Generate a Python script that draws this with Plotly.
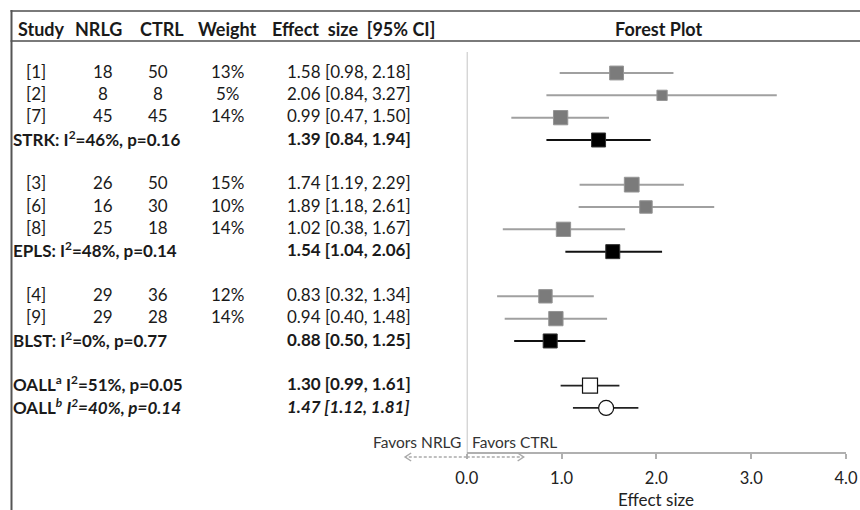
import plotly.graph_objects as go

# ---------------- data ----------------
study_labels = ["[1]", "[2]", "[7]", "[3]", "[6]", "[8]", "[4]", "[9]"]
study_rows = [0, 1, 2, 5, 6, 7, 10, 11]
nrlg = [18, 8, 45, 26, 16, 25, 29, 29]
ctrl = [50, 8, 45, 50, 30, 18, 36, 28]
weight = [13, 5, 14, 15, 10, 14, 12, 14]
study_eff = [1.58, 2.06, 0.99, 1.74, 1.89, 1.02, 0.83, 0.94]
study_lo = [0.98, 0.84, 0.47, 1.19, 1.18, 0.38, 0.32, 0.40]
study_hi = [2.18, 3.27, 1.50, 2.29, 2.61, 1.67, 1.34, 1.48]

sub_labels = ["STRK: I<sup>2</sup>=46%, p=0.16", "EPLS: I<sup>2</sup>=48%, p=0.14",
              "BLST: I<sup>2</sup>=0%, p=0.77"]
sub_rows = [3, 8, 12]
sub_eff = [1.39, 1.54, 0.88]
sub_lo = [0.84, 1.04, 0.50]
sub_hi = [1.94, 2.06, 1.25]

all_labels = ["<b>OALL<sup>a</sup> I<sup>2</sup>=51%, p=0.05</b>",
              "<b>OALL<sup><i>b</i></sup> <i>I<sup>2</sup>=40%, p=0.14</i></b>"]
all_rows = [14, 15]
all_eff = [1.30, 1.47]
all_lo = [0.99, 1.12]
all_hi = [1.61, 1.81]
all_symbols = ["square", "circle"]
all_fmt = ["<b>{}</b>", "<b><i>{}</i></b>"]

headers = ["Study", "NRLG", "CTRL", "Weight", "Effect  size  [95% CI]"]
tick_vals = [0, 1, 2, 3, 4]
tick_text = ["0.0", "1.0", "2.0", "3.0", "4.0"]

# ---------------- layout helpers ----------------
W, H = 875, 510
A_OFF, B_SC = 11.5, 0.972        # observed horizontal placement of the page in the photo
FONT = "Lato"
TXT = "#1a1a1a"
ROW0, PITCH = 73, 22.33          # pixel of first row, row pitch
AX_Y = 452                       # pixel of x axis domain bottom
X0PX, X4PX = 466, 845            # target pixels of x=0 and x=4
UNIT = (X4PX - X0PX) / 4


def px_x(p):
    return ((p - A_OFF) / B_SC) / W


def px_y(p):
    return 1 - p / H


def ci_text(e, lo, hi):
    return f"{e:.2f} [{lo:.2f}, {hi:.2f}]"


fig = go.Figure()

fig.add_trace(go.Scatter(
    x=study_eff, y=study_rows, mode="markers",
    marker=dict(symbol="square", color="#7b7b7b", opacity=1,
                size=[8 + 0.45 * w for w in weight],
                line=dict(color="#959595", width=1)),
    error_x=dict(type="data", symmetric=False,
                 array=[h - e for h, e in zip(study_hi, study_eff)],
                 arrayminus=[e - l for e, l in zip(study_eff, study_lo)],
                 width=0, thickness=2, color="#a0a0a0"),
    hoverinfo="skip", showlegend=False))

fig.add_trace(go.Scatter(
    x=sub_eff, y=sub_rows, mode="markers",
    marker=dict(symbol="square", color="#000000", size=14,
                line=dict(color="#333", width=1)),
    error_x=dict(type="data", symmetric=False,
                 array=[h - e for h, e in zip(sub_hi, sub_eff)],
                 arrayminus=[e - l for e, l in zip(sub_eff, sub_lo)],
                 width=0, thickness=2, color="#111111"),
    hoverinfo="skip", showlegend=False))

fig.add_trace(go.Scatter(
    x=all_eff, y=all_rows, mode="markers",
    marker=dict(symbol=all_symbols, color="white", size=15,
                line=dict(color="#111", width=1.2)),
    error_x=dict(type="data", symmetric=False,
                 array=[h - e for h, e in zip(all_hi, all_eff)],
                 arrayminus=[e - l for e, l in zip(all_eff, all_lo)],
                 width=0, thickness=1.8, color="#222222"),
    hoverinfo="skip", showlegend=False))

ann = []
body = dict(family=FONT, size=17, color=TXT)
hfont = dict(family=FONT, size=18, color=TXT)

hdr_pos = [(15, "left"), (98, "center"), (161, "center"), (227, "center"), (269, "left")]
for h, (xp, anc) in zip(headers, hdr_pos):
    ann.append(dict(text=f"<b>{h}</b>", x=px_x(xp), y=px_y(28.5), xref="paper", yref="paper",
                    xanchor=anc, yanchor="middle", showarrow=False, font=hfont))
ann.append(dict(text="<b>Forest Plot</b>", x=px_x(658), y=px_y(28.5), xref="paper",
                yref="paper", xanchor="center", yanchor="middle", showarrow=False, font=hfont))

for lab, r, a, b, w, e, lo, hi in zip(study_labels, study_rows, nrlg, ctrl, weight,
                                      study_eff, study_lo, study_hi):
    for txt, xp, anc in [(lab, 35, "center"), (str(a), 102, "center"),
                         (str(b), 157, "center"), (f"{w}%", 227, "center"),
                         (ci_text(e, lo, hi), 284, "left")]:
        ann.append(dict(text=txt, x=px_x(xp), y=r - 0.08, xref="paper", yref="y",
                        xanchor=anc, yanchor="middle", showarrow=False, font=body))

for lab, r, e, lo, hi in zip(sub_labels, sub_rows, sub_eff, sub_lo, sub_hi):
    ann.append(dict(text=f"<b>{lab}</b>", x=px_x(11), y=r - 0.08, xref="paper", yref="y",
                    xanchor="left", yanchor="middle", showarrow=False, font=body))
    ann.append(dict(text=f"<b>{ci_text(e, lo, hi)}</b>", x=px_x(284), y=r - 0.08, xref="paper",
                    yref="y", xanchor="left", yanchor="middle", showarrow=False, font=body))

for lab, r, e, lo, hi, fmt in zip(all_labels, all_rows, all_eff, all_lo, all_hi, all_fmt):
    ann.append(dict(text=lab, x=px_x(11), y=r - 0.08, xref="paper", yref="y",
                    xanchor="left", yanchor="middle", showarrow=False, font=body))
    ann.append(dict(text=fmt.format(ci_text(e, lo, hi)), x=px_x(284), y=r - 0.08, xref="paper",
                    yref="y", xanchor="left", yanchor="middle", showarrow=False, font=body))

fav = dict(family=FONT, size=15.5, color="#333")
ann.append(dict(text="Favors NRLG", x=px_x(X0PX - 4), y=px_y(442), xref="paper", yref="paper",
                xanchor="right", yanchor="middle", showarrow=False, font=fav))
ann.append(dict(text="Favors CTRL", x=px_x(X0PX + 3), y=px_y(442), xref="paper", yref="paper",
                xanchor="left", yanchor="middle", showarrow=False, font=fav))
ann.append(dict(text="Effect size", x=px_x(X0PX + 2 * UNIT), y=px_y(499.5), xref="paper",
                yref="paper", xanchor="center", yanchor="middle", showarrow=False,
                font=dict(family=FONT, size=17, color="#222")))

shapes = []
frame = dict(color="#7a7a7a", width=2)
shapes.append(dict(type="line", xref="paper", yref="paper", x0=px_x(10), x1=px_x(861),
                   y0=px_y(11), y1=px_y(11), line=frame))
shapes.append(dict(type="line", xref="paper", yref="paper", x0=px_x(10), x1=px_x(861),
                   y0=px_y(41), y1=px_y(41), line=frame))
shapes.append(dict(type="line", xref="paper", yref="paper", x0=px_x(11), x1=px_x(11),
                   y0=px_y(10), y1=0, line=dict(color="#555", width=2)))
shapes.append(dict(type="line", xref="x", yref="paper", x0=0, x1=0,
                   y0=px_y(52), y1=px_y(459), line=dict(color="#b0b0b0", width=1.5)))
ay = px_y(457)
left_end = X0PX - 0.65 * UNIT
right_end = X0PX + 0.6 * UNIT
acol = "#aaaaaa"
for end in (left_end, right_end):
    shapes.append(dict(type="line", xref="paper", yref="paper", x0=px_x(X0PX), x1=px_x(end),
                       y0=ay, y1=ay, line=dict(color=acol, width=1.5, dash="3px,2px")))
    d = 6 if end > X0PX else -6
    path = (f"M {px_x(end - d)},{px_y(453)} L {px_x(end)},{ay} "
            f"L {px_x(end - d)},{px_y(461)}")
    shapes.append(dict(type="path", xref="paper", yref="paper", path=path,
                       line=dict(color=acol, width=1.5)))

fig.update_layout(
    width=W, height=H, autosize=False, margin=dict(l=0, r=0, t=0, b=0, pad=0),
    paper_bgcolor="white", plot_bgcolor="white",
    font=dict(family=FONT, color=TXT),
    xaxis=dict(domain=[px_x(X0PX), px_x(X4PX)], range=[0, 4],
               tickvals=tick_vals, ticktext=tick_text,
               showgrid=False, zeroline=False, showline=True,
               linecolor="#b0b0b0", linewidth=1.5,
               ticks="outside", ticklen=5, tickcolor="#b0b0b0", tickwidth=1.5,
               ticklabelstandoff=5,
               tickfont=dict(family=FONT, size=16.5, color="#222")),
    yaxis=dict(domain=[(H - AX_Y) / H, 1],
               range=[(AX_Y - ROW0) / PITCH, (0 - ROW0) / PITCH],
               visible=False, showgrid=False, zeroline=False),
    annotations=ann, shapes=shapes,
)

fig.write_html("out.html")
